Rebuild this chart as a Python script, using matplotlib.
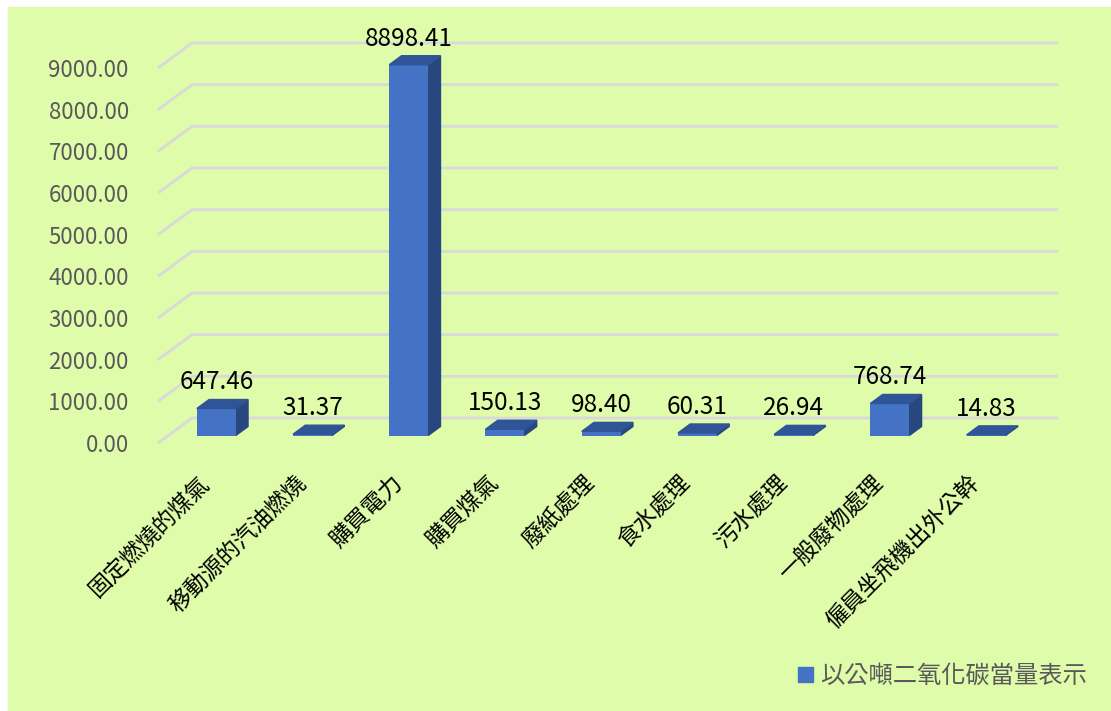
import matplotlib
matplotlib.use('Agg')
import matplotlib.pyplot as plt
from matplotlib.patches import Polygon, Rectangle, Patch
import numpy as np

plt.rcParams['font.family'] = ['Noto Sans CJK TC', 'DejaVu Sans']

categories = ['固定燃燒的煤氣', '移動源的汽油燃燒', '購買電力', '購買煤氣', '廢紙處理',
              '食水處理', '污水處理', '一般廢物處理', '僱員坐飛機出外公幹']
values = [647.46, 31.37, 8898.41, 150.13, 98.40, 60.31, 26.94, 768.74, 14.83]
series_name = '以公噸二氧化碳當量表示'
yticks = np.arange(0, 9001, 1000)

GREEN = '#DFFCAB'
FRONT = '#4472C4'
TOP = '#2F5597'
SIDE = '#29477F'
GRID = '#D9D9D9'

fig = plt.figure(figsize=(11.11, 7.11), dpi=100, facecolor='white')
fig.patches.append(Rectangle((8 / 1111, 0), 1 - 8 / 1111, 1 - 7 / 711,
                             transform=fig.transFigure, color=GREEN, zorder=-10))

ax = fig.add_axes([158 / 1111, 268 / 711, 866 / 1111, 375 / 711])
ax.patch.set_visible(False)
for s in ax.spines.values():
    s.set_visible(False)
ax.set_xlim(-0.5, len(categories) - 0.5)
ax.set_ylim(0, 9000)

# depth of the 3d floor, in data units
DX = 34 / 866 * len(categories)
DY = 25 / 375 * 9000
t0, t1 = 0.30, 0.66
width = 0.405

# back wall gridlines + left wall diagonals
x0, x1 = -0.5, len(categories) - 0.5
for v in yticks:
    ax.plot([x0, x0 + DX, x1 + DX], [v, v + DY, v + DY], color=GRID, lw=2,
            clip_on=False, zorder=1, solid_capstyle='butt')

x = np.arange(len(categories))
xc = x + t0 * DX
base = t0 * DY
ax.bar(xc, values, width=width, bottom=base, color=FRONT, zorder=3, clip_on=False)
ddx, ddy = (t1 - t0) * DX, (t1 - t0) * DY
for xi, v in zip(xc, values):
    xl, xr = xi - width / 2, xi + width / 2
    top = base + v
    ax.add_patch(Polygon([(xl, top), (xr, top), (xr + ddx, top + ddy), (xl + ddx, top + ddy)],
                         closed=True, color=TOP, zorder=3, clip_on=False))
    ax.add_patch(Polygon([(xr, base), (xr + ddx, base + ddy), (xr + ddx, top + ddy), (xr, top)],
                         closed=True, color=SIDE, zorder=2, clip_on=False))
    ax.annotate('{:.2f}'.format(v), xy=(xi, top + ddy), xytext=(0, 3), textcoords='offset points',
                ha='center', va='bottom', fontsize=17.5, color='black', zorder=5,
                annotation_clip=False)

ax.set_yticks(yticks)
ax.set_yticklabels(['{:.2f}'.format(v) for v in yticks], fontsize=16, color='#595959')
ax.set_xticks(x)
ax.set_xticklabels(categories, rotation=45, ha='right', va='center', rotation_mode='anchor',
                   fontsize=16.5, color='black')
ax.tick_params(axis='both', length=0)
ax.tick_params(axis='y', pad=21)
ax.tick_params(axis='x', pad=26)

fig.legend(handles=[Patch(color=FRONT)], labels=[series_name], loc='center right',
           bbox_to_anchor=(1109 / 1111, 35 / 711), frameon=False, fontsize=17.5,
           handlelength=0.6, handleheight=0.6, handletextpad=0.3, labelcolor='#595959')

fig.savefig('out.png', dpi=100, facecolor='white')
